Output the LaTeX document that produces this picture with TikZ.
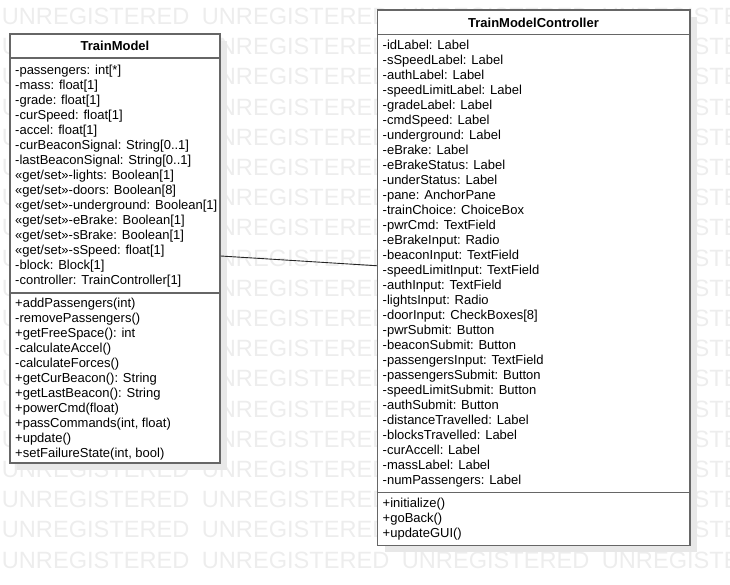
\documentclass[tikz,border=0pt]{standalone}
\usepackage{fontspec}
\setmainfont{Liberation Sans}
\usetikzlibrary{calc}

\begin{document}
\begin{tikzpicture}[x=1pt, y=-1pt,
  wmark/.style={anchor=base west, inner sep=0, text=black!7, font=\fontsize{23.6}{24}\selectfont},
  boxshadow/.style={fill=black!9, draw=none},
  classbox/.style={draw=black!60, line width=1.4pt, fill=white, inner sep=0},
  classline/.style={draw=black!60, line width=1.4pt},
  member/.style={anchor=base west, inner sep=0, font=\fontsize{13}{15}\selectfont},
  classname/.style={anchor=base, inner sep=0, font=\bfseries\fontsize{13}{15}\selectfont},
  assoc/.style={draw=black!85, line width=0.9pt}]

\useasboundingbox (0,0) rectangle (730,585);

% watermark rows
\begin{scope}
\clip (0,0) rectangle (730,585);
\foreach \r in {0,...,18}
  \foreach \c in {0,...,3}
    \node[wmark] (wm-\r-\c) at (1.7+200*\c, 24.5+30.2*\r) {UNREGISTERED};
\end{scope}

% shadows
\fill[boxshadow] (17,41) rectangle (227,470);
\fill[boxshadow] (384.5,17) rectangle (697,552);

% class boxes
\node[classbox, minimum width=210, minimum height=429] (trainModel) at (115,248.5) {};
\node[classbox, minimum width=312.5, minimum height=535.5] (controller) at (533.75,277.75) {};

\draw[classline] (trainModel.west |- 0,58) -- (trainModel.east |- 0,58);
\draw[classline] (trainModel.west |- 0,293) -- (trainModel.east |- 0,293);
\draw[classline] (controller.west |- 0,34.3) -- (controller.east |- 0,34.3);
\draw[classline] (controller.west |- 0,492.7) -- (controller.east |- 0,492.7);

% TrainModel
\node[classname] (tmName) at (115,51) {TrainModel};
\foreach \t [count=\i from 0] in {{-passengers: int[*]}, {-mass: float[1]}, {-grade: float[1]},
    {-curSpeed: float[1]}, {-accel: float[1]}, {-curBeaconSignal: String[0..1]},
    {-lastBeaconSignal: String[0..1]}, {«get/set»-lights: Boolean[1]},
    {«get/set»-doors: Boolean[8]}, {«get/set»-underground: Boolean[1]},
    {«get/set»-eBrake: Boolean[1]}, {«get/set»-sBrake: Boolean[1]},
    {«get/set»-sSpeed: float[1]}, {-block: Block[1]}, {-controller: TrainController[1]}}
  \node[member] (tmAttr\i) at (15, 74.5+15*\i) {\t};
\foreach \t [count=\i from 0] in {{+addPassengers(int)}, {-removePassengers()},
    {+getFreeSpace(): int}, {-calculateAccel()}, {-calculateForces()},
    {+getCurBeacon(): String}, {+getLastBeacon(): String}, {+powerCmd(float)},
    {+passCommands(int, float)}, {+update()}, {+setFailureState(int, bool)}}
  \node[member] (tmOp\i) at (15, 307.5+15*\i) {\t};

% TrainModelController
\node[classname] (ctrlName) at (533.5,27.3) {TrainModelController};
\foreach \t [count=\i from 0] in {{-idLabel: Label}, {-sSpeedLabel: Label}, {-authLabel: Label},
    {-speedLimitLabel: Label}, {-gradeLabel: Label}, {-cmdSpeed: Label},
    {-underground: Label}, {-eBrake: Label}, {-eBrakeStatus: Label},
    {-underStatus: Label}, {-pane: AnchorPane}, {-trainChoice: ChoiceBox},
    {-pwrCmd: TextField}, {-eBrakeInput: Radio}, {-beaconInput: TextField},
    {-speedLimitInput: TextField}, {-authInput: TextField}, {-lightsInput: Radio},
    {-doorInput: CheckBoxes[8]}, {-pwrSubmit: Button}, {-beaconSubmit: Button},
    {-passengersInput: TextField}, {-passengersSubmit: Button},
    {-speedLimitSubmit: Button}, {-authSubmit: Button}, {-distanceTravelled: Label},
    {-blocksTravelled: Label}, {-curAccell: Label}, {-massLabel: Label},
    {-numPassengers: Label}}
  \node[member] (ctrlAttr\i) at (382.5, 49.3+15*\i) {\t};
\foreach \t [count=\i from 0] in {{+initialize()}, {+goBack()}, {+updateGUI()}}
  \node[member] (ctrlOp\i) at (382.5, 507.7+15*\i) {\t};

% association
\draw[assoc] ([shift={(0,7.5)}]trainModel.east) -- ([shift={(0,-12)}]controller.west);
\end{tikzpicture}
\end{document}
